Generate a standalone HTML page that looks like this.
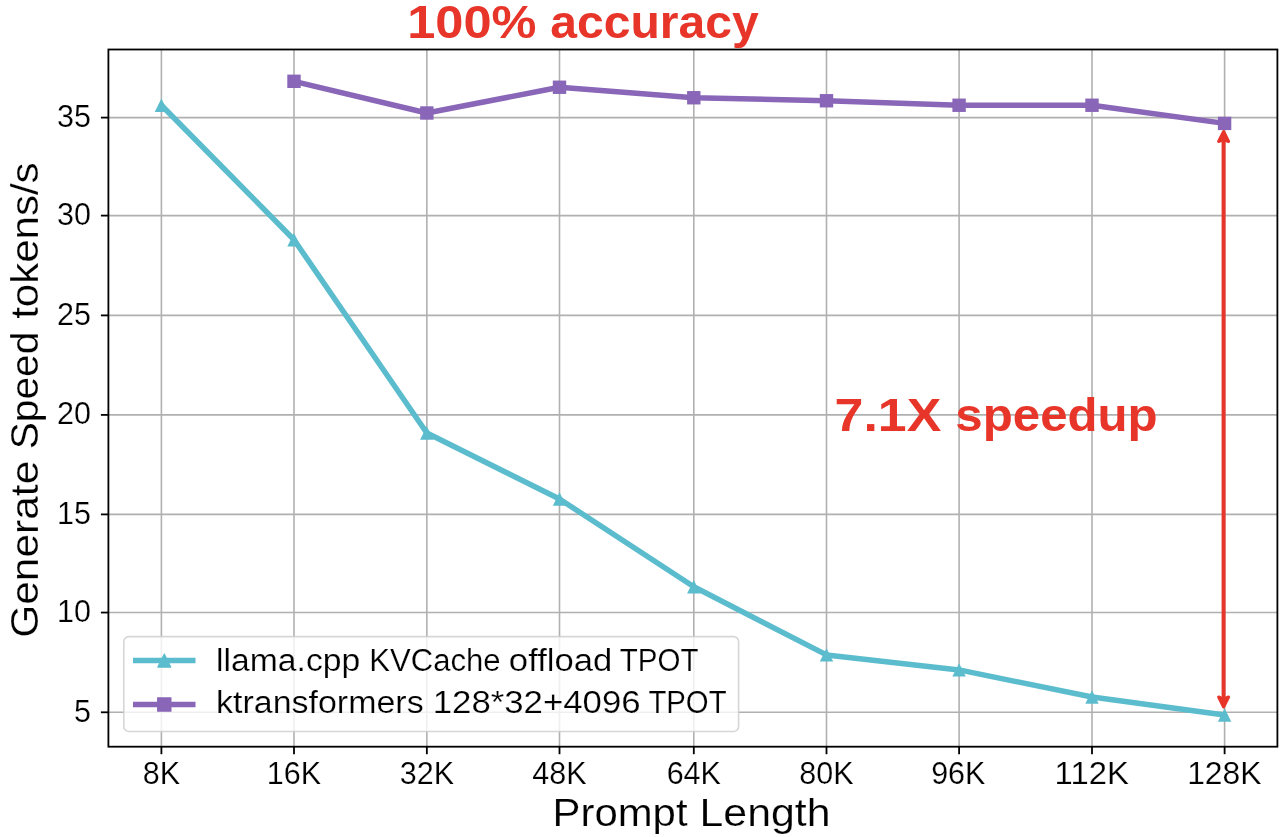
<!DOCTYPE html><html><head><meta charset="utf-8"><style>html,body{margin:0;padding:0;background:#fff;}svg{display:block;will-change:transform}text{font-family:"Liberation Sans",sans-serif;}</style></head><body>
<svg width="1280" height="837" viewBox="0 0 1280 837">
<rect x="0" y="0" width="1280" height="837" fill="#ffffff"/>
<line x1="161.40" y1="49.50" x2="161.40" y2="746.70" stroke="#b0b0b0" stroke-width="1.6"/>
<line x1="294.00" y1="49.50" x2="294.00" y2="746.70" stroke="#b0b0b0" stroke-width="1.6"/>
<line x1="426.85" y1="49.50" x2="426.85" y2="746.70" stroke="#b0b0b0" stroke-width="1.6"/>
<line x1="559.50" y1="49.50" x2="559.50" y2="746.70" stroke="#b0b0b0" stroke-width="1.6"/>
<line x1="693.80" y1="49.50" x2="693.80" y2="746.70" stroke="#b0b0b0" stroke-width="1.6"/>
<line x1="826.50" y1="49.50" x2="826.50" y2="746.70" stroke="#b0b0b0" stroke-width="1.6"/>
<line x1="959.10" y1="49.50" x2="959.10" y2="746.70" stroke="#b0b0b0" stroke-width="1.6"/>
<line x1="1092.00" y1="49.50" x2="1092.00" y2="746.70" stroke="#b0b0b0" stroke-width="1.6"/>
<line x1="1224.60" y1="49.50" x2="1224.60" y2="746.70" stroke="#b0b0b0" stroke-width="1.6"/>
<line x1="108.40" y1="712.30" x2="1277.40" y2="712.30" stroke="#b0b0b0" stroke-width="1.6"/>
<line x1="108.40" y1="612.55" x2="1277.40" y2="612.55" stroke="#b0b0b0" stroke-width="1.6"/>
<line x1="108.40" y1="514.40" x2="1277.40" y2="514.40" stroke="#b0b0b0" stroke-width="1.6"/>
<line x1="108.40" y1="414.90" x2="1277.40" y2="414.90" stroke="#b0b0b0" stroke-width="1.6"/>
<line x1="108.40" y1="315.40" x2="1277.40" y2="315.40" stroke="#b0b0b0" stroke-width="1.6"/>
<line x1="108.40" y1="215.60" x2="1277.40" y2="215.60" stroke="#b0b0b0" stroke-width="1.6"/>
<line x1="108.40" y1="117.60" x2="1277.40" y2="117.60" stroke="#b0b0b0" stroke-width="1.6"/>
<polyline points="161.40,105.20 294.00,239.75 426.85,433.00 559.50,499.00 693.80,586.80 826.50,654.90 959.10,669.90 1092.00,697.05 1224.60,715.00" fill="none" stroke="#5bbccd" stroke-width="5.5" stroke-linejoin="round" stroke-linecap="round"/>
<path d="M161.40,98.50 L154.70,111.90 L168.10,111.90Z" fill="#5bbccd"/>
<path d="M294.00,233.05 L287.30,246.45 L300.70,246.45Z" fill="#5bbccd"/>
<path d="M426.85,426.30 L420.15,439.70 L433.55,439.70Z" fill="#5bbccd"/>
<path d="M559.50,492.30 L552.80,505.70 L566.20,505.70Z" fill="#5bbccd"/>
<path d="M693.80,580.10 L687.10,593.50 L700.50,593.50Z" fill="#5bbccd"/>
<path d="M826.50,648.20 L819.80,661.60 L833.20,661.60Z" fill="#5bbccd"/>
<path d="M959.10,663.20 L952.40,676.60 L965.80,676.60Z" fill="#5bbccd"/>
<path d="M1092.00,690.35 L1085.30,703.75 L1098.70,703.75Z" fill="#5bbccd"/>
<path d="M1224.60,708.30 L1217.90,721.70 L1231.30,721.70Z" fill="#5bbccd"/>
<polyline points="294.00,81.30 426.85,113.00 559.50,87.25 693.80,97.75 826.50,100.75 959.10,105.25 1092.00,105.25 1224.60,123.40" fill="none" stroke="#8966b7" stroke-width="5.5" stroke-linejoin="round" stroke-linecap="round"/>
<rect x="287.30" y="74.60" width="13.40" height="13.40" fill="#8966b7"/>
<rect x="420.15" y="106.30" width="13.40" height="13.40" fill="#8966b7"/>
<rect x="552.80" y="80.55" width="13.40" height="13.40" fill="#8966b7"/>
<rect x="687.10" y="91.05" width="13.40" height="13.40" fill="#8966b7"/>
<rect x="819.80" y="94.05" width="13.40" height="13.40" fill="#8966b7"/>
<rect x="952.40" y="98.55" width="13.40" height="13.40" fill="#8966b7"/>
<rect x="1085.30" y="98.55" width="13.40" height="13.40" fill="#8966b7"/>
<rect x="1217.90" y="116.70" width="13.40" height="13.40" fill="#8966b7"/>
<line x1="1223.6" y1="139.5" x2="1223.6" y2="699" stroke="#e8352a" stroke-width="4"/>
<path d="M1223.6,131.5 L1218.6,141.5 L1223.6,139.5 L1228.6,141.5Z" fill="#e8352a" stroke="#e8352a" stroke-width="3" stroke-linejoin="round"/>
<path d="M1223.6,707 L1218.6,697 L1223.6,699 L1228.6,697Z" fill="#e8352a" stroke="#e8352a" stroke-width="3" stroke-linejoin="round"/>
<rect x="108.40" y="49.50" width="1169.00" height="697.20" fill="none" stroke="#000" stroke-width="1.8" stroke-linejoin="miter"/>
<line x1="161.40" y1="746.70" x2="161.40" y2="754.20" stroke="#000" stroke-width="1.8"/>
<line x1="294.00" y1="746.70" x2="294.00" y2="754.20" stroke="#000" stroke-width="1.8"/>
<line x1="426.85" y1="746.70" x2="426.85" y2="754.20" stroke="#000" stroke-width="1.8"/>
<line x1="559.50" y1="746.70" x2="559.50" y2="754.20" stroke="#000" stroke-width="1.8"/>
<line x1="693.80" y1="746.70" x2="693.80" y2="754.20" stroke="#000" stroke-width="1.8"/>
<line x1="826.50" y1="746.70" x2="826.50" y2="754.20" stroke="#000" stroke-width="1.8"/>
<line x1="959.10" y1="746.70" x2="959.10" y2="754.20" stroke="#000" stroke-width="1.8"/>
<line x1="1092.00" y1="746.70" x2="1092.00" y2="754.20" stroke="#000" stroke-width="1.8"/>
<line x1="1224.60" y1="746.70" x2="1224.60" y2="754.20" stroke="#000" stroke-width="1.8"/>
<line x1="100.90" y1="712.30" x2="108.40" y2="712.30" stroke="#000" stroke-width="1.8"/>
<line x1="100.90" y1="612.55" x2="108.40" y2="612.55" stroke="#000" stroke-width="1.8"/>
<line x1="100.90" y1="514.40" x2="108.40" y2="514.40" stroke="#000" stroke-width="1.8"/>
<line x1="100.90" y1="414.90" x2="108.40" y2="414.90" stroke="#000" stroke-width="1.8"/>
<line x1="100.90" y1="315.40" x2="108.40" y2="315.40" stroke="#000" stroke-width="1.8"/>
<line x1="100.90" y1="215.60" x2="108.40" y2="215.60" stroke="#000" stroke-width="1.8"/>
<line x1="100.90" y1="117.60" x2="108.40" y2="117.60" stroke="#000" stroke-width="1.8"/>
<rect x="123.8" y="636.6" width="614.8000000000001" height="94.89999999999998" rx="5" ry="5" fill="#ffffff" fill-opacity="0.8" stroke="#cccccc" stroke-opacity="0.8" stroke-width="1.6"/>
<line x1="133" y1="660.5" x2="195.5" y2="660.5" stroke="#5bbccd" stroke-width="5.5" stroke-linecap="butt"/>
<path d="M164.3,653.80 L157.60,667.20 L171.00,667.20Z" fill="#5bbccd" stroke="#5bbccd" stroke-width="1"/>
<line x1="133" y1="704.5" x2="195.5" y2="704.5" stroke="#8966b7" stroke-width="5.5" stroke-linecap="butt"/>
<rect x="157.60" y="697.80" width="13.4" height="13.4" fill="#8966b7" stroke="#8966b7" stroke-width="1"/>
<text x="407.17" y="38.25" font-size="46" font-weight="bold" fill="#e8352a" text-anchor="start" textLength="129.42" lengthAdjust="spacingAndGlyphs">100%</text>
<text x="550.27" y="38.25" font-size="46" font-weight="bold" fill="#e8352a" text-anchor="start" textLength="208.41" lengthAdjust="spacingAndGlyphs">accuracy</text>
<text x="834.56" y="430.5" font-size="46" font-weight="bold" fill="#e8352a" text-anchor="start" textLength="106.77" lengthAdjust="spacingAndGlyphs">7.1X</text>
<text x="955.38" y="430.5" font-size="46" font-weight="bold" fill="#e8352a" text-anchor="start" textLength="202.26" lengthAdjust="spacingAndGlyphs">speedup</text>
<text x="161.4" y="784" font-size="30.5" font-weight="normal" fill="#000" text-anchor="middle" stroke="#ffffff" stroke-width="0.2">8K</text>
<text x="294.0" y="784" font-size="30.5" font-weight="normal" fill="#000" text-anchor="middle" stroke="#ffffff" stroke-width="0.2">16K</text>
<text x="426.85" y="784" font-size="30.5" font-weight="normal" fill="#000" text-anchor="middle" stroke="#ffffff" stroke-width="0.2">32K</text>
<text x="559.5" y="784" font-size="30.5" font-weight="normal" fill="#000" text-anchor="middle" stroke="#ffffff" stroke-width="0.2">48K</text>
<text x="693.8" y="784" font-size="30.5" font-weight="normal" fill="#000" text-anchor="middle" stroke="#ffffff" stroke-width="0.2">64K</text>
<text x="826.5" y="784" font-size="30.5" font-weight="normal" fill="#000" text-anchor="middle" stroke="#ffffff" stroke-width="0.2">80K</text>
<text x="958.3" y="784" font-size="30.5" font-weight="normal" fill="#000" text-anchor="middle" stroke="#ffffff" stroke-width="0.2">96K</text>
<text x="1091.7" y="784" font-size="30.5" font-weight="normal" fill="#000" text-anchor="middle" textLength="74.21" lengthAdjust="spacingAndGlyphs" stroke="#ffffff" stroke-width="0.2">112K</text>
<text x="1224.35" y="784" font-size="30.5" font-weight="normal" fill="#000" text-anchor="middle" textLength="74.41" lengthAdjust="spacingAndGlyphs" stroke="#ffffff" stroke-width="0.2">128K</text>
<text x="91" y="127.1" font-size="30.5" font-weight="normal" fill="#000" text-anchor="end" stroke="#ffffff" stroke-width="0.2">35</text>
<text x="91" y="225.1" font-size="30.5" font-weight="normal" fill="#000" text-anchor="end" stroke="#ffffff" stroke-width="0.2">30</text>
<text x="91" y="324.9" font-size="30.5" font-weight="normal" fill="#000" text-anchor="end" stroke="#ffffff" stroke-width="0.2">25</text>
<text x="91" y="424.4" font-size="30.5" font-weight="normal" fill="#000" text-anchor="end" stroke="#ffffff" stroke-width="0.2">20</text>
<text x="91" y="523.9" font-size="30.5" font-weight="normal" fill="#000" text-anchor="end" stroke="#ffffff" stroke-width="0.2">15</text>
<text x="91" y="622.05" font-size="30.5" font-weight="normal" fill="#000" text-anchor="end" stroke="#ffffff" stroke-width="0.2">10</text>
<text x="91" y="721.8" font-size="30.5" font-weight="normal" fill="#000" text-anchor="end" stroke="#ffffff" stroke-width="0.2">5</text>
<text x="38.2" y="637.78" font-size="39" font-weight="normal" fill="#000" text-anchor="start" textLength="177.04" lengthAdjust="spacingAndGlyphs" transform="rotate(-90 38.2 637.78)" stroke="#ffffff" stroke-width="0.2">Generate</text>
<text x="38.2" y="449.36" font-size="39" font-weight="normal" fill="#000" text-anchor="start" textLength="117.68" lengthAdjust="spacingAndGlyphs" transform="rotate(-90 38.2 449.36)" stroke="#ffffff" stroke-width="0.2">Speed</text>
<text x="38.2" y="318.8" font-size="39" font-weight="normal" fill="#000" text-anchor="start" textLength="156.41" lengthAdjust="spacingAndGlyphs" transform="rotate(-90 38.2 318.8)" stroke="#ffffff" stroke-width="0.2">tokens/s</text>
<text x="552.48" y="825.6" font-size="39" font-weight="normal" fill="#000" text-anchor="start" textLength="135.08" lengthAdjust="spacingAndGlyphs" stroke="#ffffff" stroke-width="0.2">Prompt</text>
<text x="699.56" y="825.6" font-size="39" font-weight="normal" fill="#000" text-anchor="start" textLength="131.06" lengthAdjust="spacingAndGlyphs" stroke="#ffffff" stroke-width="0.2">Length</text>
<text x="216.06" y="670.6" font-size="31" font-weight="normal" fill="#000" text-anchor="start" textLength="144.15" lengthAdjust="spacingAndGlyphs" stroke="#ffffff" stroke-width="0.2">llama.cpp</text>
<text x="369.24" y="670.6" font-size="31" font-weight="normal" fill="#000" text-anchor="start" textLength="131.4" lengthAdjust="spacingAndGlyphs" stroke="#ffffff" stroke-width="0.2">KVCache</text>
<text x="508.87" y="670.6" font-size="31" font-weight="normal" fill="#000" text-anchor="start" textLength="103.44" lengthAdjust="spacingAndGlyphs" stroke="#ffffff" stroke-width="0.2">offload</text>
<text x="619.75" y="670.6" font-size="31" font-weight="normal" fill="#000" text-anchor="start" textLength="78.69" lengthAdjust="spacingAndGlyphs" stroke="#ffffff" stroke-width="0.2">TPOT</text>
<text x="216.13" y="712.6" font-size="31" font-weight="normal" fill="#000" text-anchor="start" textLength="207.49" lengthAdjust="spacingAndGlyphs" stroke="#ffffff" stroke-width="0.2">ktransformers</text>
<text x="432.72" y="712.6" font-size="31" font-weight="normal" fill="#000" text-anchor="start" textLength="207.88" lengthAdjust="spacingAndGlyphs" stroke="#ffffff" stroke-width="0.2">128*32+4096</text>
<text x="648.42" y="712.6" font-size="31" font-weight="normal" fill="#000" text-anchor="start" textLength="78.17" lengthAdjust="spacingAndGlyphs" stroke="#ffffff" stroke-width="0.2">TPOT</text>
</svg></body></html>
